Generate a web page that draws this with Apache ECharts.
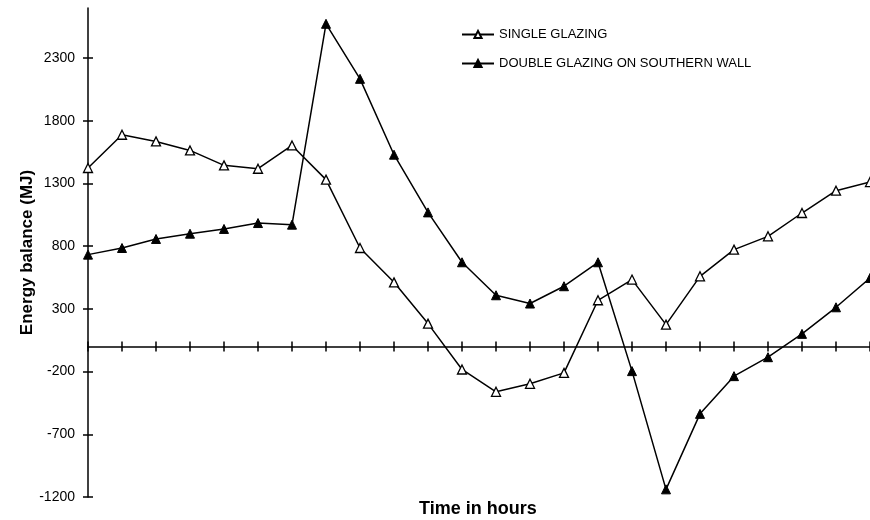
<!DOCTYPE html>
<html><head><meta charset="utf-8">
<script src="https://cdn.jsdelivr.net/npm/echarts@6/dist/echarts.min.js"></script>
<style>html,body{margin:0;padding:0;background:#fff}#c{width:870px;height:520px}</style>
</head><body><div id="c"></div>
<script>
const hours = Array.from({length:24}, (_, i) => String(i + 1));
const singleGlazing = [1424, 1689, 1636, 1564, 1445, 1418, 1604, 1331, 786, 512, 183, -183, -361, -297, -210, 369, 534, 175, 560, 773, 879, 1065, 1243, 1312];
const doubleGlazing = [733, 786, 858, 900, 938, 985, 972, 2574, 2135, 1530, 1070, 672, 409, 343, 481, 672, -196, -1139, -537, -236, -85, 101, 313, 547];
const yTicks = [-1200, -700, -200, 300, 800, 1300, 1800, 2300];
const seriesNames = ['SINGLE GLAZING', 'DOUBLE GLAZING ON SOUTHERN WALL'];
const xTitle = 'Time in hours';
const yTitle = 'Energy balance (MJ)';

const chart = echarts.init(document.getElementById('c'), null, {renderer: 'canvas'});
const font = 'Liberation Sans, Arial, sans-serif';
const tickStyle = {color: '#000', width: 1.5};
const hiddenLine = {show: true, onZero: true, lineStyle: {color: '#000', width: 1.5, opacity: 0}};
const gridRect = {left: 88, right: 0, top: 8, bottom: 23, containLabel: false, outerBoundsMode: 'none'};
const yBase = {
  type: 'value', min: -1200, max: 2700, interval: 500,
  splitLine: {show: false}, position: 'left'
};
const xBase = {
  type: 'category', data: hours, boundaryGap: false, position: 'bottom',
  axisLabel: {show: false}, splitLine: {show: false},
  axisLine: {onZero: true, lineStyle: {color: '#000', width: 1.5}}
};
chart.setOption({
  animation: false,
  textStyle: {fontFamily: font, color: '#000'},
  grid: [Object.assign({}, gridRect), Object.assign({}, gridRect)],
  title: {
    text: xTitle, left: 419, top: 500, padding: 0,
    textStyle: {fontFamily: font, fontSize: 18, fontWeight: 'bold', color: '#000'}
  },
  legend: {
    orient: 'vertical', left: 461, top: 28, itemGap: 16, padding: 0,
    itemWidth: 32, itemHeight: 9,
    textStyle: {fontFamily: font, fontSize: 13, color: '#000'},
    data: seriesNames
  },
  xAxis: [
    Object.assign({}, xBase, {
      gridIndex: 0,
      axisTick: {show: true, interval: 0, length: 5, lineStyle: tickStyle}
    }),
    Object.assign({}, xBase, {
      gridIndex: 1,
      axisLine: hiddenLine,
      axisTick: {show: true, inside: true, interval: 0, length: 5, lineStyle: tickStyle}
    })
  ],
  yAxis: [
    Object.assign({}, yBase, {
      gridIndex: 0,
      name: yTitle, nameLocation: 'middle', nameGap: 52, nameMoveOverlap: false,
      nameTextStyle: {fontFamily: font, fontSize: 17, fontWeight: 'bold', color: '#000'},
      axisLine: {show: true, lineStyle: {color: '#000', width: 1.5}},
      axisTick: {show: true, length: 5, customValues: yTicks, lineStyle: tickStyle},
      axisLabel: {customValues: yTicks, formatter: v => String(v), fontFamily: font, fontSize: 14, color: '#000', margin: 13}
    }),
    Object.assign({}, yBase, {
      gridIndex: 1,
      axisLine: hiddenLine,
      axisLabel: {show: false},
      axisTick: {show: true, inside: true, length: 5, customValues: yTicks, lineStyle: tickStyle}
    })
  ],
  series: [
    {
      name: 'ticks', type: 'line', xAxisIndex: 1, yAxisIndex: 1,
      data: doubleGlazing, silent: true, symbol: 'none', z: 0,
      lineStyle: {opacity: 0, width: 0}
    },
    {
      name: seriesNames[0], type: 'line', data: singleGlazing,
      symbol: 'triangle', symbolSize: 9, showAllSymbol: true,
      lineStyle: {color: '#000', width: 1.5},
      itemStyle: {color: '#fff', borderColor: '#000', borderWidth: 1.3}
    },
    {
      name: seriesNames[1], type: 'line', data: doubleGlazing,
      symbol: 'triangle', symbolSize: 9, showAllSymbol: true,
      lineStyle: {color: '#000', width: 1.5},
      itemStyle: {color: '#000', borderColor: '#000', borderWidth: 1}
    }
  ]
});
</script></body></html>
